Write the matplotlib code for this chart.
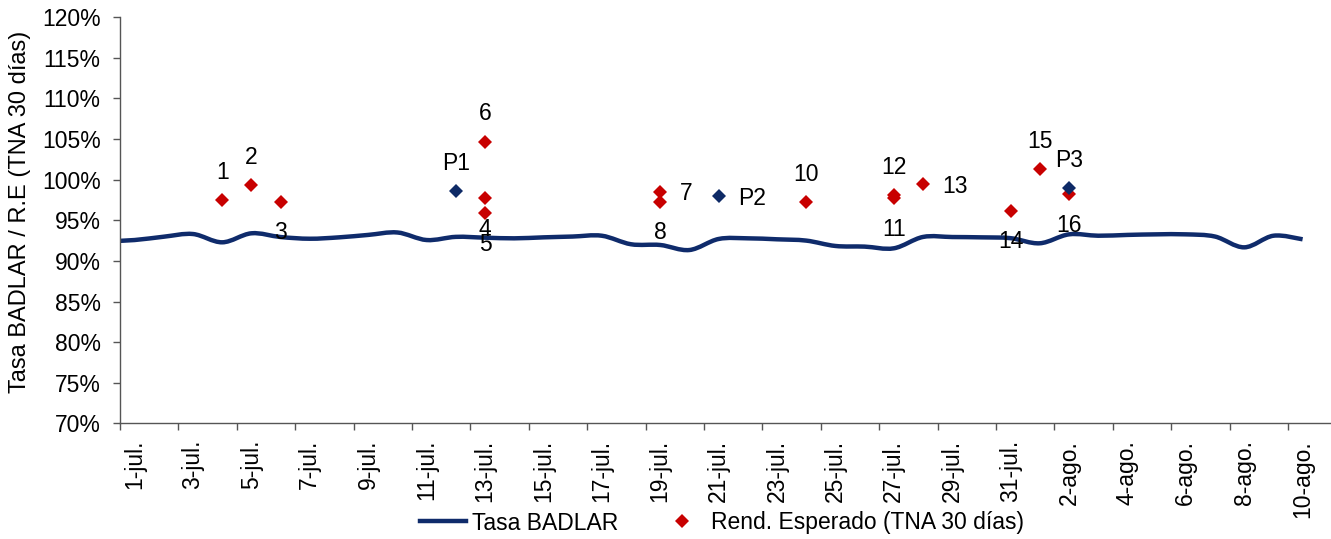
import matplotlib
matplotlib.use("Agg")
import matplotlib.pyplot as plt
from matplotlib.path import Path
from matplotlib.patches import PathPatch
from matplotlib.lines import Line2D
from matplotlib.ticker import FixedLocator, FuncFormatter
import numpy as np

plt.rcParams['font.family'] = ['Liberation Sans', 'DejaVu Sans']

# ---------------- data ----------------
dates = [f"{d}-jul." for d in range(1, 32)] + [f"{d}-ago." for d in range(1, 11)]

# Tasa BADLAR (first value is 30-jun., just left of the visible axis)
badlar_dates = ["30-jun."] + dates
badlar = [92.4, 92.57, 92.98, 93.31, 92.29, 93.4, 92.94, 92.73, 92.9, 93.2,
          93.5, 92.57, 92.96, 92.86, 92.78, 92.9, 93.0, 93.1, 92.05, 91.96,
          91.34, 92.7, 92.78, 92.66, 92.5, 91.84, 91.76, 91.55, 92.95, 92.94,
          92.9, 92.8, 92.17, 93.27, 93.1, 93.2, 93.27, 93.27, 93.0, 91.67,
          93.1, 92.66]

# Rend. Esperado (TNA 30 dias)
rend_dates = ["4-jul.", "5-jul.", "6-jul.", "13-jul.", "13-jul.", "13-jul.",
              "19-jul.", "19-jul.", "24-jul.", "27-jul.", "27-jul.", "28-jul.",
              "31-jul.", "1-ago.", "2-ago."]
rend_vals = [97.5, 99.35, 97.3, 97.7, 95.85, 104.7, 98.5, 97.3, 97.2,
             97.75, 98.1, 99.45, 96.2, 101.3, 98.25]
rend_labels = ["1", "2", "3", "4", "5", "6", "7", "8", "10", "11", "12",
               "13", "14", "15", "16"]

# P points
p_dates = ["12-jul.", "21-jul.", "2-ago."]
p_vals = [98.6, 98.0, 99.0]
p_labels = ["P1", "P2", "P3"]

yticks = list(range(70, 121, 5))

# ---------------- style ----------------
LINE_C = '#0F2B6B'
RED = '#C80000'
BLUE = '#0E2A66'
AX_C = '#555555'
FS = 16.5
MS = 6.8

label_place = {"1": "above", "2": "above", "3": "below", "4": "below",
               "5": "below", "6": "above", "7": "right", "8": "below",
               "10": "above", "11": "below", "12": "above", "13": "right",
               "14": "below", "15": "above", "16": "below",
               "P1": "above", "P2": "right", "P3": "above"}

W, H = 1331, 539
fig = plt.figure(figsize=(W / 100, H / 100), dpi=100)
ax = fig.add_axes([120 / W, 1 - 423.3 / H, (W - 120) / W, (423.3 - 17.3) / H])

pos = {d: i for i, d in enumerate(badlar_dates, start=-1)}

# smoothed BADLAR line (cubic Bezier through the data points)
xs = np.array([pos[d] for d in badlar_dates], dtype=float)
ys = np.array(badlar, dtype=float)
P = np.column_stack([xs, ys])
n = len(P)
verts = [P[0]]
codes = [Path.MOVETO]
for k in range(n - 1):
    p0 = P[max(k - 1, 0)]
    p1 = P[k]
    p2 = P[k + 1]
    p3 = P[min(k + 2, n - 1)]
    c1 = p1 + (p2 - p0) / 6.0
    c2 = p2 - (p3 - p1) / 6.0
    verts += [c1, c2, p2]
    codes += [Path.CURVE4] * 3
patch = PathPatch(Path(verts, codes), facecolor='none', edgecolor=LINE_C,
                  lw=3.2, zorder=2, joinstyle='round', capstyle='butt')
ax.add_patch(patch)

rx = [pos[d] for d in rend_dates]
ax.plot(rx, rend_vals, linestyle='none', marker='D', markersize=MS,
        color=RED, markeredgewidth=0, zorder=3)
px_ = [pos[d] for d in p_dates]
ax.plot(px_, p_vals, linestyle='none', marker='D', markersize=MS,
        color=BLUE, markeredgewidth=0, zorder=4)


def put_label(x, y, txt):
    place = label_place[txt]
    if place == "above":
        off, ha, va = (0, 20), 'center', 'center'
    elif place == "below":
        off, ha, va = (0, -22.5), 'center', 'center'
    else:
        off, ha, va = (14, -1.5), 'left', 'center'
    ax.annotate(txt, (x, y), xytext=off, textcoords='offset points',
                ha=ha, va=va, fontsize=FS, color='black', zorder=5)


for x, y, t in zip(rx, rend_vals, rend_labels):
    put_label(x, y, t)
for x, y, t in zip(px_, p_vals, p_labels):
    put_label(x, y, t)

# axes
ax.set_xlim(-0.5, -0.5 + (W - 120) / 29.2)
ax.set_ylim(70, 120)
for s in ['top', 'right']:
    ax.spines[s].set_visible(False)
for s in ['left', 'bottom']:
    ax.spines[s].set_color(AX_C)
    ax.spines[s].set_linewidth(1.0)

ax.set_yticks(yticks)
ax.yaxis.set_major_formatter(FuncFormatter(lambda v, p: f"{v:.0f}%"))
ax.tick_params(axis='y', direction='out', length=5, width=1, color=AX_C,
               labelsize=FS, pad=9)

ax.xaxis.set_major_locator(FixedLocator(np.arange(-0.5, 41, 2)))
ax.xaxis.set_major_formatter(FuncFormatter(lambda v, p: ""))
ax.xaxis.set_minor_locator(FixedLocator(np.arange(0, 41, 2)))
ax.xaxis.set_minor_formatter(FuncFormatter(
    lambda v, p: dates[int(round(v))] if 0 <= int(round(v)) < len(dates) else ""))
ax.tick_params(axis='x', which='major', direction='out', length=5, width=1,
               color=AX_C)
ax.tick_params(axis='x', which='minor', length=0, labelsize=FS, pad=12,
               labelrotation=90)

fig.text(20 / W, 1 - 212 / H, "Tasa BADLAR / R.E (TNA 30 días)", rotation=90,
         ha='center', va='center', fontsize=17)

handles = [Line2D([], [], color=LINE_C, lw=3.2),
           Line2D([], [], linestyle='none', marker='D', markersize=MS,
                  color=RED, markeredgewidth=0)]
fig.legend(handles, ["Tasa BADLAR", "Rend. Esperado (TNA 30 días)"],
           loc='center', bbox_to_anchor=(722 / W, 16 / H), ncol=2,
           frameon=False, fontsize=FS, handlelength=2.0, handletextpad=0.25,
           columnspacing=1.8, borderpad=0, borderaxespad=0)

fig.savefig("out.png", dpi=100)
